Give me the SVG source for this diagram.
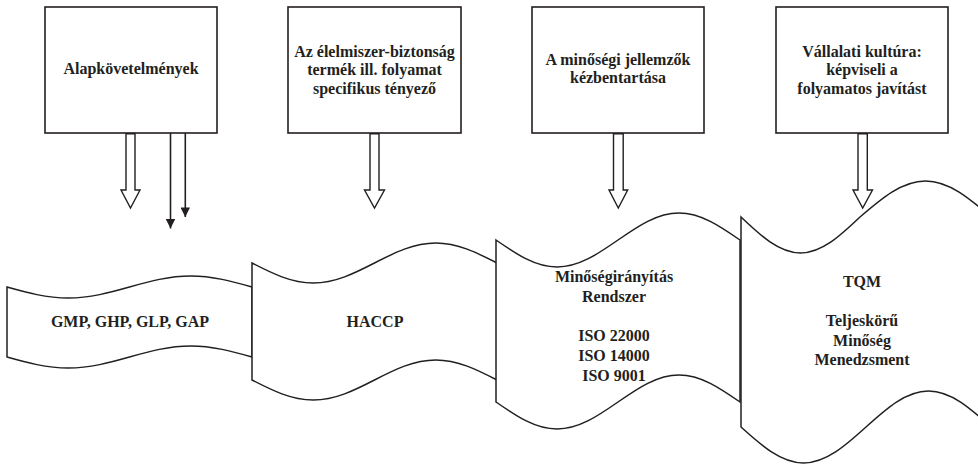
<svg xmlns="http://www.w3.org/2000/svg" width="978" height="464" viewBox="0 0 978 464">
<style>
.box{fill:#fff;stroke:#231f20;stroke-width:1.6}
.tape{fill:#fff;stroke:#231f20;stroke-width:1.5;stroke-linejoin:miter}
.harrow{fill:#fff;stroke:#231f20;stroke-width:1.4;stroke-linejoin:miter}
.line{fill:none;stroke:#231f20;stroke-width:1.6}
text{font-family:"Liberation Serif","Times New Roman",serif;font-weight:bold;font-size:16px;fill:#231f20;text-anchor:middle}
</style>
<defs>
<marker id="head" viewBox="0 0 10 10" refX="10" refY="5" markerUnits="userSpaceOnUse" markerWidth="10" markerHeight="9.5" orient="auto">
<path d="M0,0 L10,5 L0,10 Z" fill="#231f20"/>
</marker>
</defs>

<g id="tape1">
<path class="tape" d="M7,287 C26.97,292.63 46.2,298 68.25,298 C90.3,298 109.53,292.63 129.5,287 C149.47,281.37 168.7,276 190.75,276 C212.8,276 232.03,281.37 252,287 L252,357 C232.03,351.37 212.8,346 190.75,346 C168.7,346 149.47,351.37 129.5,357 C109.53,362.63 90.3,368 68.25,368 C46.2,368 26.97,362.63 7,357 Z"/>
<text x="130" y="327">GMP, GHP, GLP, GAP</text>
</g>

<g id="tape2">
<path class="tape" d="M252,263 C271.97,273.24 291.2,283 313.25,283 C335.3,283 354.53,273.24 374.5,263 C394.47,252.76 413.7,243 435.75,243 C457.8,243 477.03,252.76 497,263 L497,380 C477.03,369.76 457.8,360 435.75,360 C413.7,360 394.47,369.76 374.5,380 C354.53,390.24 335.3,400 313.25,400 C291.2,400 271.97,390.24 252,380 Z"/>
<text x="375" y="327">HACCP</text>
</g>

<g id="tape3">
<path class="tape" d="M496,240 C515.89,253.82 535.04,267 557,267 C578.96,267 598.11,253.82 618,240 C637.89,226.18 657.04,213 679,213 C700.96,213 720.11,226.18 740,240 L740,402 C720.11,388.18 700.96,375 679,375 C657.04,375 637.89,388.18 618,402 C598.11,415.82 578.96,429 557,429 C535.04,429 515.89,415.82 496,402 Z"/>
<text x="614" y="282">Minőségirányítás</text>
<text x="614" y="301.7">Rendszer</text>
<text x="614" y="341.1">ISO 22000</text>
<text x="614" y="360.8">ISO 14000</text>
<text x="614" y="380.5">ISO 9001</text>
</g>

<g id="tape4">
<path class="tape" d="M741,217 C760.4,235.43 779.08,253 800.5,253 C821.92,253 840.6,235.43 860,217 C881.35,198.57 901.92,181 925.5,181 C949.08,181 969.65,198.57 991,217 L991,427 C970.63,408.57 951,391 928.5,391 C906,391 886.38,408.57 866,427 C845.63,445.43 826,463 803.5,463 C781,463 761.38,445.43 741,427 Z"/>
<text x="862" y="287">TQM</text>
<text x="862" y="326">Teljeskörű</text>
<text x="862" y="345.5">Minőség</text>
<text x="862" y="365">Menedzsment</text>
</g>

<g id="box1">
<rect class="box" x="45" y="7" width="172" height="126"/>
<text x="131" y="74">Alapkövetelmények</text>
</g>

<g id="box2">
<rect class="box" x="288" y="7" width="173" height="126"/>
<text x="374.5" y="56.5">Az élelmiszer-biztonság</text>
<text x="374.5" y="75">termék ill. folyamat</text>
<text x="374.5" y="93.5">specifikus tényező</text>
</g>

<g id="box3">
<rect class="box" x="532" y="7" width="172" height="126"/>
<text x="618" y="64.5">A minőségi jellemzők</text>
<text x="618" y="83">kézbentartása</text>
</g>

<g id="box4">
<rect class="box" x="776" y="7" width="172" height="126"/>
<text x="862" y="56.5">Vállalati kultúra:</text>
<text x="862" y="75">képviseli a</text>
<text x="862" y="93.5">folyamatos javítást</text>
</g>

<g id="connectors">
<polygon class="harrow" points="126,133.8 126,190 121,190 130.5,208 140,190 135,190 135,133.8"/>
<polygon class="harrow" points="370,133.8 370,190 364.5,190 374.5,208 384.5,190 379,190 379,133.8"/>
<polygon class="harrow" points="613.5,133.8 613.5,190 609,190 618.3,208 627.7,190 623.2,190 623.2,133.8"/>
<polygon class="harrow" points="858,133.8 858,190 853,190 862.7,208 872.5,190 867.3,190 867.3,133.8"/>
<line class="line" x1="170.5" y1="133" x2="170.5" y2="228.5" marker-end="url(#head)"/>
<line class="line" x1="185.3" y1="133" x2="185.3" y2="217" marker-end="url(#head)"/>
</g>
</svg>
